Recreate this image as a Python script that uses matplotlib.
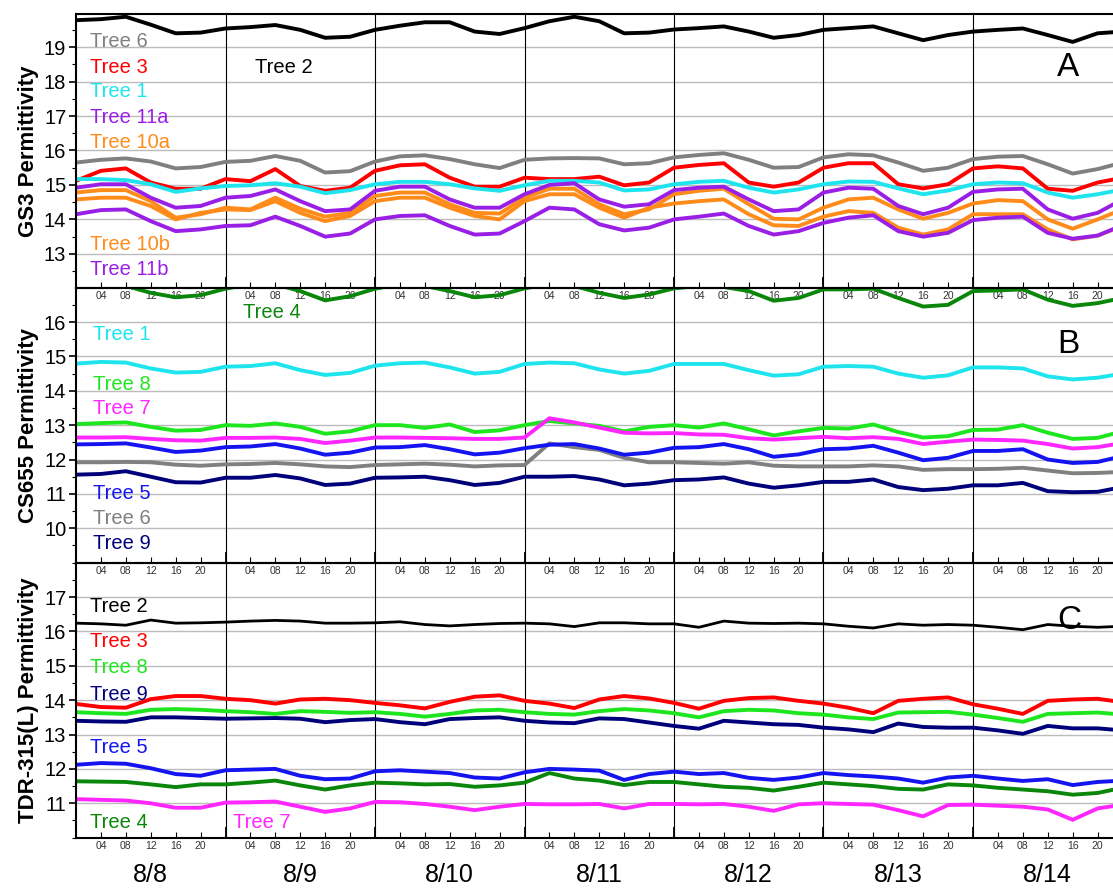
import numpy as np
import matplotlib.pyplot as plt
import matplotlib.transforms as mtransforms
from matplotlib.ticker import FixedLocator, FuncFormatter, MultipleLocator, NullFormatter

plt.rcParams['font.family'] = ['Liberation Sans', 'DejaVu Sans']

# sampling times, hours from 8/8 00:00
hours = list(range(0, 169, 4))
day_names = ["8/8", "8/9", "8/10", "8/11", "8/12", "8/13", "8/14"]

# ---- panel A : GS3 ----
a_tree2 = [19.78, 19.81, 19.88, 19.65, 19.40, 19.42, 19.54, 19.58, 19.64, 19.50, 19.27, 19.30, 19.50, 19.62,
           19.72, 19.72, 19.45, 19.38, 19.55, 19.75, 19.88, 19.75, 19.40, 19.42, 19.51, 19.55, 19.60, 19.45,
           19.27, 19.35, 19.50, 19.55, 19.60, 19.40, 19.20, 19.35, 19.45, 19.50, 19.54, 19.35, 19.15, 19.40, 19.45]
a_tree6 = [15.65, 15.73, 15.77, 15.68, 15.48, 15.52, 15.67, 15.70, 15.84, 15.70, 15.36, 15.40, 15.68, 15.83,
           15.86, 15.75, 15.60, 15.49, 15.73, 15.77, 15.78, 15.77, 15.60, 15.63, 15.80, 15.87, 15.92, 15.73,
           15.50, 15.52, 15.80, 15.89, 15.86, 15.65, 15.41, 15.50, 15.75, 15.82, 15.84, 15.60, 15.33, 15.46, 15.65]
a_tree3 = [15.12, 15.41, 15.48, 15.07, 14.89, 14.89, 15.17, 15.11, 15.46, 14.97, 14.83, 14.92, 15.41, 15.57,
           15.60, 15.21, 14.95, 14.95, 15.21, 15.17, 15.17, 15.24, 14.99, 15.07, 15.50, 15.58, 15.63, 15.07,
           14.95, 15.07, 15.50, 15.63, 15.63, 15.02, 14.90, 15.02, 15.48, 15.54, 15.48, 14.89, 14.83, 15.07, 15.21]
a_tree1 = [15.17, 15.17, 15.14, 15.02, 14.80, 14.90, 14.97, 14.99, 15.05, 14.95, 14.76, 14.85, 15.02, 15.09,
           15.09, 15.02, 14.90, 14.83, 14.99, 15.12, 15.12, 15.07, 14.84, 14.87, 15.02, 15.09, 15.12, 14.92,
           14.78, 14.87, 15.02, 15.10, 15.09, 14.90, 14.73, 14.84, 15.02, 15.07, 15.05, 14.78, 14.63, 14.73, 14.87]
a_tree11a = [14.92, 15.02, 15.02, 14.63, 14.34, 14.39, 14.63, 14.68, 14.87, 14.53, 14.24, 14.29, 14.83, 14.95,
             14.95, 14.58, 14.34, 14.34, 14.73, 15.00, 15.05, 14.58, 14.37, 14.44, 14.85, 14.92, 14.95, 14.58,
             14.24, 14.29, 14.78, 14.92, 14.89, 14.39, 14.15, 14.34, 14.80, 14.87, 14.89, 14.29, 14.02, 14.19, 14.58]
a_tree10a = [14.78, 14.85, 14.85, 14.53, 14.05, 14.15, 14.34, 14.29, 14.63, 14.31, 14.08, 14.19, 14.68, 14.78,
             14.78, 14.44, 14.19, 14.17, 14.63, 14.89, 14.89, 14.44, 14.15, 14.29, 14.73, 14.83, 14.89, 14.44,
             14.02, 14.00, 14.34, 14.58, 14.63, 14.29, 14.02, 14.19, 14.46, 14.56, 14.53, 14.00, 13.73, 14.00, 14.29]
a_tree10b = [14.58, 14.63, 14.63, 14.39, 14.00, 14.19, 14.29, 14.27, 14.53, 14.19, 13.95, 14.10, 14.53, 14.63,
             14.63, 14.34, 14.10, 14.00, 14.53, 14.73, 14.73, 14.34, 14.05, 14.34, 14.46, 14.53, 14.58, 14.15,
             13.83, 13.81, 14.08, 14.24, 14.19, 13.76, 13.56, 13.71, 14.15, 14.15, 14.15, 13.71, 13.42, 13.53, 13.81]
a_tree11b = [14.15, 14.27, 14.29, 13.95, 13.66, 13.71, 13.81, 13.83, 14.08, 13.81, 13.50, 13.59, 14.00, 14.10,
             14.12, 13.81, 13.56, 13.59, 13.95, 14.34, 14.29, 13.86, 13.68, 13.76, 14.00, 14.08, 14.17, 13.81,
             13.56, 13.66, 13.90, 14.05, 14.12, 13.66, 13.50, 13.61, 13.98, 14.05, 14.08, 13.61, 13.44, 13.53, 13.83]

# ---- panel B : CS655 ----
b_tree4 = [17.10, 17.10, 17.05, 16.85, 16.72, 16.78, 16.97, 17.10, 17.10, 16.90, 16.63, 16.75, 16.97, 17.10,
           17.05, 16.90, 16.72, 16.78, 16.98, 17.10, 17.05, 16.85, 16.70, 16.80, 16.98, 17.05, 17.02, 16.90,
           16.62, 16.70, 16.95, 16.95, 16.97, 16.70, 16.45, 16.50, 16.90, 16.92, 16.95, 16.65, 16.47, 16.55, 16.70]
b_tree1 = [14.79, 14.84, 14.82, 14.65, 14.53, 14.55, 14.70, 14.72, 14.80, 14.60, 14.46, 14.52, 14.73, 14.80,
           14.82, 14.68, 14.50, 14.55, 14.78, 14.82, 14.80, 14.62, 14.50, 14.58, 14.78, 14.78, 14.78, 14.60,
           14.44, 14.48, 14.70, 14.72, 14.70, 14.50, 14.38, 14.45, 14.68, 14.68, 14.65, 14.42, 14.33, 14.38, 14.50]
b_tree8 = [13.03, 13.06, 13.08, 12.95, 12.84, 12.86, 13.00, 12.98, 13.05, 12.95, 12.75, 12.82, 13.00, 13.00,
           12.92, 13.02, 12.80, 12.85, 13.00, 13.12, 13.05, 12.98, 12.82, 12.95, 13.00, 12.93, 13.05, 12.88,
           12.70, 12.82, 12.92, 12.90, 13.02, 12.80, 12.64, 12.68, 12.86, 12.87, 13.00, 12.78, 12.60, 12.63, 12.82]
b_tree7 = [12.64, 12.64, 12.65, 12.60, 12.56, 12.55, 12.63, 12.63, 12.64, 12.60, 12.48, 12.55, 12.64, 12.64,
           12.63, 12.62, 12.60, 12.60, 12.64, 13.20, 13.08, 12.93, 12.78, 12.76, 12.77, 12.73, 12.72, 12.62,
           12.58, 12.62, 12.66, 12.62, 12.65, 12.60, 12.45, 12.52, 12.58, 12.57, 12.55, 12.45, 12.32, 12.36, 12.48]
b_tree5 = [12.44, 12.45, 12.47, 12.35, 12.22, 12.26, 12.36, 12.38, 12.45, 12.32, 12.14, 12.20, 12.35, 12.36,
           12.42, 12.30, 12.15, 12.20, 12.33, 12.43, 12.45, 12.32, 12.14, 12.20, 12.34, 12.36, 12.45, 12.30,
           12.08, 12.15, 12.30, 12.32, 12.40, 12.20, 11.98, 12.05, 12.25, 12.25, 12.30, 12.00, 11.90, 11.93, 12.10]
b_tree6 = [11.92, 11.92, 11.93, 11.92, 11.85, 11.82, 11.86, 11.87, 11.90, 11.86, 11.80, 11.78, 11.84, 11.86,
           11.88, 11.85, 11.80, 11.83, 11.84, 12.47, 12.36, 12.28, 12.05, 11.92, 11.92, 11.90, 11.88, 11.92,
           11.82, 11.80, 11.80, 11.80, 11.83, 11.80, 11.70, 11.72, 11.72, 11.73, 11.76, 11.68, 11.60, 11.61, 11.64]
b_tree9 = [11.56, 11.58, 11.66, 11.50, 11.34, 11.33, 11.47, 11.47, 11.55, 11.45, 11.26, 11.30, 11.47, 11.48,
           11.50, 11.40, 11.26, 11.32, 11.50, 11.50, 11.52, 11.42, 11.25, 11.30, 11.40, 11.42, 11.48, 11.30,
           11.18, 11.25, 11.35, 11.35, 11.42, 11.20, 11.11, 11.15, 11.25, 11.25, 11.32, 11.08, 11.05, 11.06, 11.20]

# ---- panel C : TDR-315(L) ----
c_tree2 = [16.24, 16.22, 16.18, 16.33, 16.24, 16.25, 16.27, 16.30, 16.32, 16.30, 16.24, 16.24, 16.25, 16.28,
           16.20, 16.16, 16.20, 16.23, 16.24, 16.22, 16.14, 16.25, 16.25, 16.22, 16.22, 16.12, 16.30, 16.24,
           16.23, 16.24, 16.22, 16.15, 16.10, 16.22, 16.18, 16.20, 16.18, 16.12, 16.05, 16.20, 16.15, 16.12, 16.15]
c_tree3 = [13.89, 13.80, 13.78, 14.03, 14.12, 14.12, 14.04, 14.00, 13.90, 14.02, 14.04, 14.00, 13.92, 13.85,
           13.76, 13.95, 14.10, 14.14, 13.98, 13.90, 13.77, 14.02, 14.12, 14.05, 13.92, 13.75, 13.98, 14.06,
           14.08, 13.98, 13.90, 13.78, 13.62, 13.98, 14.04, 14.08, 13.88, 13.75, 13.60, 13.98, 14.02, 14.04, 13.94]
c_tree8 = [13.65, 13.62, 13.60, 13.72, 13.74, 13.72, 13.68, 13.65, 13.60, 13.68, 13.66, 13.63, 13.65, 13.60,
           13.52, 13.60, 13.70, 13.72, 13.65, 13.60, 13.58, 13.68, 13.74, 13.70, 13.62, 13.50, 13.68, 13.72,
           13.70, 13.62, 13.58, 13.50, 13.45, 13.64, 13.65, 13.66, 13.58, 13.48, 13.37, 13.60, 13.62, 13.64, 13.58]
c_tree9 = [13.40, 13.38, 13.37, 13.50, 13.50, 13.48, 13.46, 13.47, 13.48, 13.46, 13.36, 13.42, 13.45, 13.36,
           13.30, 13.45, 13.48, 13.50, 13.40, 13.35, 13.33, 13.47, 13.45, 13.35, 13.25, 13.17, 13.40, 13.35,
           13.30, 13.28, 13.20, 13.15, 13.07, 13.32, 13.22, 13.20, 13.20, 13.12, 13.02, 13.25, 13.18, 13.18, 13.12]
c_tree5 = [12.12, 12.17, 12.15, 12.02, 11.85, 11.80, 11.96, 11.98, 12.00, 11.80, 11.70, 11.72, 11.93, 11.96,
           11.92, 11.88, 11.75, 11.72, 11.90, 12.00, 11.98, 11.95, 11.68, 11.85, 11.92, 11.85, 11.88, 11.74,
           11.68, 11.75, 11.88, 11.82, 11.78, 11.72, 11.60, 11.75, 11.80, 11.72, 11.65, 11.70, 11.53, 11.62, 11.66]
c_tree4 = [11.64, 11.63, 11.62, 11.55, 11.47, 11.55, 11.55, 11.60, 11.66, 11.52, 11.40, 11.52, 11.60, 11.58,
           11.55, 11.56, 11.48, 11.52, 11.60, 11.88, 11.72, 11.66, 11.53, 11.62, 11.62, 11.55, 11.48, 11.45,
           11.37, 11.48, 11.60, 11.55, 11.50, 11.42, 11.40, 11.55, 11.52, 11.45, 11.40, 11.35, 11.25, 11.30, 11.45]
c_tree7 = [11.12, 11.10, 11.08, 11.00, 10.87, 10.87, 11.02, 11.03, 11.05, 10.90, 10.75, 10.85, 11.04, 11.03,
           10.98, 10.90, 10.80, 10.90, 10.98, 10.97, 10.97, 10.98, 10.85, 10.98, 10.98, 10.97, 10.98, 10.90,
           10.78, 10.97, 11.00, 10.98, 10.96, 10.80, 10.62, 10.95, 10.96, 10.93, 10.90, 10.82, 10.52, 10.85, 10.96]

BLACK = "#000000"
GRAY = "#808080"
RED = "#ff0000"
CYAN = "#1ee4ee"
PURPLE = "#9a1fe6"
ORANGE = "#ff8c1a"
DKGREEN = "#0a870a"
LIME = "#1ee61e"
MAGENTA = "#ff26ff"
BLUE = "#1414f0"
NAVY = "#00007a"

W, H = 1113, 891
fig = plt.figure(figsize=(W / 100, H / 100), dpi=100)


def px_axes(top, bottom, left=76, right=1117):
    ax = fig.add_axes([left / W, 1 - bottom / H, (right - left) / W, (bottom - top) / H])
    ax.set_facecolor("none")
    return ax


axA = px_axes(14, 288)
axB = px_axes(288, 563)
axC = px_axes(563, 838)

x_end = (1117 - 76) / 149.5 * 24
minor_pos = [h for h in range(4, 168, 4) if h % 24 != 0]

panels = [
    (axA, (12.01, 19.96), range(13, 20), "GS3 Permittivity"),
    (axB, (8.99, 16.99), range(10, 17), "CS655 Permittivity"),
    (axC, (9.99, 17.99), range(11, 18), "TDR-315(L) Permittivity"),
]
for ax, ylim, yt, ylab in panels:
    ax.set_xlim(0, x_end)
    ax.set_ylim(*ylim)
    ax.set_yticks(list(yt))
    ax.yaxis.set_minor_locator(MultipleLocator(0.5))
    for v in yt:
        ax.axhline(v, color="#bcbcbc", lw=1.0, zorder=0)
    for d in range(1, 7):
        ax.axvline(24 * d, color="black", lw=0.8, zorder=0.5)
    ax.xaxis.set_major_locator(FixedLocator(list(range(0, 169, 24))))
    ax.xaxis.set_major_formatter(NullFormatter())
    ax.xaxis.set_minor_locator(FixedLocator(minor_pos))
    ax.xaxis.set_minor_formatter(FuncFormatter(lambda x, pos: f"{int(round(x)) % 24:02d}"))
    ax.tick_params(axis="x", which="major", direction="in", length=8, width=1.3)
    ax.tick_params(axis="x", which="minor", direction="in", length=4, width=0.8,
                   labelsize=7.5, labelcolor="#333333", pad=2.5)
    ax.tick_params(axis="y", which="major", direction="out", length=5, width=1.2, labelsize=14.5, pad=2)
    ax.tick_params(axis="y", which="minor", direction="out", length=3, width=0.8)
    ax.set_ylabel(ylab, fontsize=16, fontweight="bold")
    ax.yaxis.set_label_coords(-0.036, 0.5)
    for s in ax.spines.values():
        s.set_linewidth(1.5)

lw = 2.8
# panel A
for vals, col in [(a_tree2, BLACK), (a_tree6, GRAY), (a_tree3, RED), (a_tree1, CYAN),
                  (a_tree10a, ORANGE), (a_tree10b, ORANGE), (a_tree11a, PURPLE), (a_tree11b, PURPLE)]:
    axA.plot(hours, vals, color=col, lw=lw)
# panel B
for vals, col in [(b_tree4, DKGREEN), (b_tree1, CYAN), (b_tree8, LIME), (b_tree7, MAGENTA),
                  (b_tree6, GRAY), (b_tree5, BLUE), (b_tree9, NAVY)]:
    axB.plot(hours, vals, color=col, lw=lw)
# panel C
axC.plot(hours, c_tree2, color=BLACK, lw=2.0)
for vals, col in [(c_tree3, RED), (c_tree8, LIME), (c_tree9, NAVY), (c_tree5, BLUE),
                  (c_tree4, DKGREEN), (c_tree7, MAGENTA)]:
    axC.plot(hours, vals, color=col, lw=lw)

fs = 14.5
xl = 2.2
for txt, y, col in [("Tree 6", 19.17, GRAY), ("Tree 3", 18.42, RED), ("Tree 1", 17.70, CYAN),
                    ("Tree 11a", 16.97, PURPLE), ("Tree 10a", 16.22, ORANGE),
                    ("Tree 10b", 13.26, ORANGE), ("Tree 11b", 12.54, PURPLE)]:
    axA.text(xl, y, txt, color=col, fontsize=fs, va="center")
axA.text(28.7, 18.42, "Tree 2", color=BLACK, fontsize=fs, va="center")

for txt, y, col in [("Tree 1", 15.65, CYAN), ("Tree 8", 14.19, LIME), ("Tree 7", 13.47, MAGENTA),
                    ("Tree 5", 11.02, BLUE), ("Tree 6", 10.29, GRAY), ("Tree 9", 9.56, NAVY)]:
    axB.text(xl + 0.6, y, txt, color=col, fontsize=fs, va="center")
axB.text(26.8, 16.27, "Tree 4", color=DKGREEN, fontsize=fs, va="center")

for txt, y, col in [("Tree 2", 16.71, BLACK), ("Tree 3", 15.72, RED), ("Tree 8", 14.96, LIME),
                    ("Tree 9", 14.17, NAVY), ("Tree 5", 12.63, BLUE), ("Tree 4", 10.45, DKGREEN)]:
    axC.text(xl, y, txt, color=col, fontsize=fs, va="center")
axC.text(25.2, 10.45, "Tree 7", color=MAGENTA, fontsize=fs, va="center")

for ax, letter, y in [(axA, "A", 18.42), (axB, "B", 15.36), (axC, "C", 16.33)]:
    ax.text(157.5, y, letter, fontsize=24, va="center", ha="left")

trans = mtransforms.blended_transform_factory(axC.transData, axC.transAxes)
for i, d in enumerate(day_names):
    axC.text(12 + 24 * i, -0.135, d, transform=trans, ha="center", va="center", fontsize=18)

fig.savefig("out.png", dpi=100)
